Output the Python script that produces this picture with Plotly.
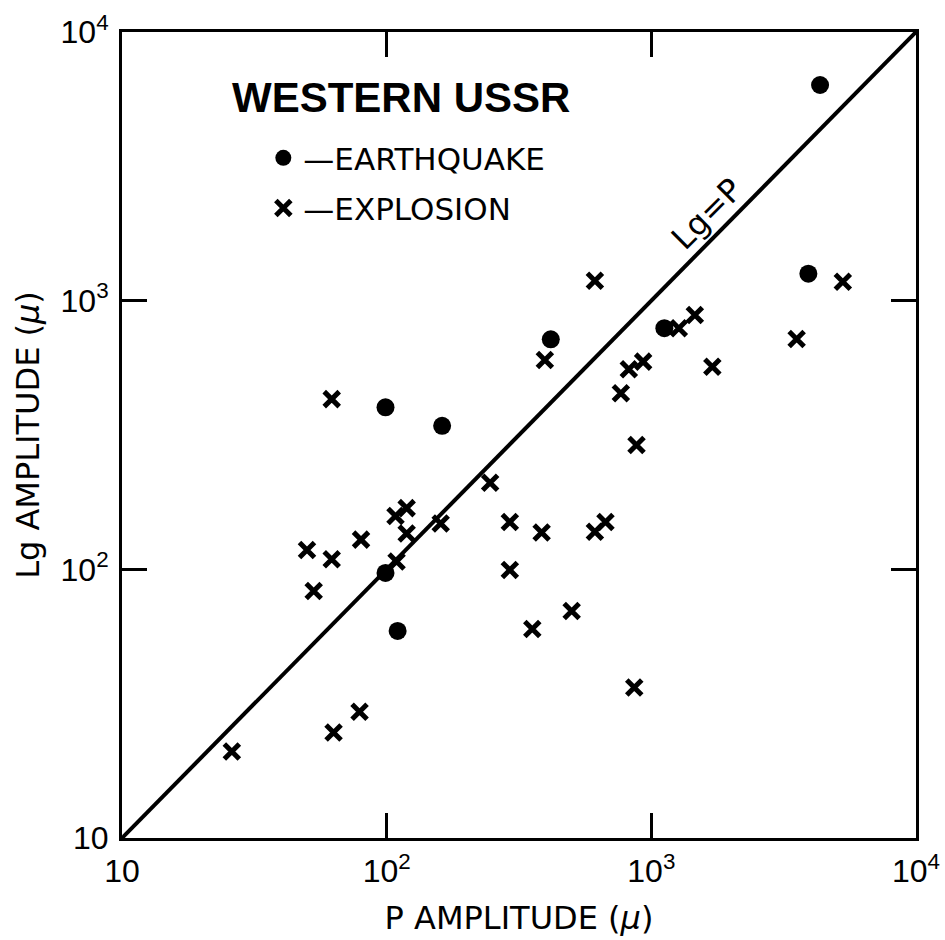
import plotly.graph_objects as go

# Earthquakes: P amplitude vs Lg amplitude (microns)
quake_p = [4340, 3920, 1120, 417, 99, 162, 99, 110]
quake_lg = [6350, 1260, 790, 718, 401, 342, 97, 59]

# Explosions
expl_p = [62, 612, 396, 1270, 1460, 822, 931, 767, 1700, 879, 5290, 3540,
          50, 62, 80, 108, 119, 119, 160, 109, 53, 79, 63, 26,
          292, 355, 500, 862, 246, 292, 385, 612, 671]
expl_lg = [430, 1187, 601, 789, 885, 556, 593, 452, 568, 290, 1177, 720,
           118, 109, 129, 158, 169, 136, 148, 107, 83, 29.5, 24.7, 21,
           99.5, 60, 70, 36.3, 210, 150, 137, 138, 150]

line_vals = [10, 10000]
tick_vals = [10, 100, 1000, 10000]
tick_text = ["10", "10<sup>2</sup>", "10<sup>3</sup>", "10<sup>4</sup>"]

FONT = "DejaVu Sans, sans-serif"
TICKFONT = "Liberation Sans, Arial, sans-serif"

fig = go.Figure()
fig.add_trace(go.Scatter(x=line_vals, y=line_vals, mode="lines",
                         line=dict(color="black", width=4),
                         showlegend=False, hoverinfo="skip"))
fig.add_trace(go.Scatter(x=quake_p, y=quake_lg, mode="markers",
                         name="—EARTHQUAKE", legendgroup="q",
                         marker=dict(symbol="circle", size=18, color="black")))
fig.add_trace(go.Scatter(x=expl_p, y=expl_lg, mode="markers",
                         name="—EXPLOSION", legendgroup="e",
                         marker=dict(symbol="x-thin-open", size=15,
                                     line=dict(color="black", width=5),
                                     color="black")))

fig.add_annotation(x=3.21, y=3.322, xref="x", yref="y", text="Lg=P",
                   textangle=-45, showarrow=False,
                   font=dict(family=FONT, size=32, color="black"))

fig.add_annotation(x=(230 - 122) / 794, y=(838 - 97) / 806,
                   xref="paper", yref="paper", xanchor="left", yanchor="middle",
                   text="<b>WESTERN USSR</b>", showarrow=False,
                   font=dict(family="Liberation Sans, Arial, sans-serif",
                             size=42, color="black"))

axis_common = dict(type="log", range=[1, 4], tickvals=tick_vals,
                   ticktext=tick_text, ticks="inside", ticklen=25,
                   tickwidth=2.5, tickcolor="black", showline=True,
                   linecolor="black", linewidth=3, mirror="ticks",
                   showgrid=False, zeroline=False, automargin=False,
                   tickfont=dict(family=TICKFONT, size=32, color="black"))

fig.update_xaxes(**axis_common, ticklabelstandoff=3,
                 title=dict(text="P AMPLITUDE (<i>μ</i>)", standoff=19,
                            font=dict(family=FONT, size=32, color="black")))
fig.update_yaxes(**axis_common, ticklabelstandoff=4,
                 title=dict(text="Lg AMPLITUDE (<i>μ</i>)", standoff=12,
                            font=dict(family=FONT, size=32, color="black")))

fig.update_layout(
    width=945, height=940,
    margin=dict(l=122, r=29, t=32, b=102),
    paper_bgcolor="white", plot_bgcolor="white",
    showlegend=True,
    legend=dict(x=0.178, y=0.877, xanchor="left", yanchor="top",
                bgcolor="rgba(0,0,0,0)", borderwidth=0,
                font=dict(family=FONT, size=31, color="black"),
                tracegroupgap=7, itemsizing="trace"),
)

fig.write_html("out.html")
